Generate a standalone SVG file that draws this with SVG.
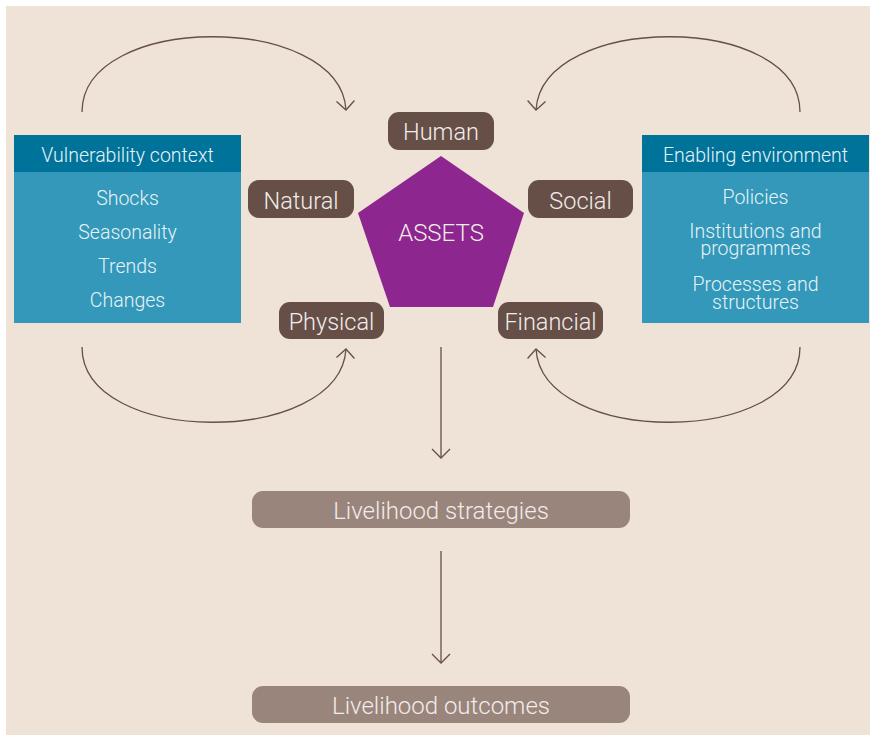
<svg xmlns="http://www.w3.org/2000/svg" width="875" height="735" viewBox="0 0 875 735">
<defs>
<marker id="ah" markerUnits="userSpaceOnUse" markerWidth="24" markerHeight="24" refX="12" refY="12" orient="auto">
<path d="M3,3 L12,12 L3,21" fill="none" stroke="#654F47" stroke-width="1.3"/>
</marker>
<style>
text{font-family:Roboto,"Liberation Sans",sans-serif;font-weight:300;text-anchor:middle;fill:#F2ECEA}
.hdr{fill:#00739B}
.body{fill:#3398BA}
.bt{fill:#E8F3F6}
.asset{fill:#654F47}
.out{fill:#9A857C}
.conn{fill:none;stroke:#654F47;stroke-width:1.3;marker-end:url(#ah)}
</style>
</defs>
<rect x="0" y="0" width="875" height="735" fill="#FFFFFF"/>
<rect x="6" y="6" width="864" height="729" fill="#EFE2D6"/>

<g id="connectors">
<path class="conn" d="M82,112 C82,12 340,12 346,110"/>
<path class="conn" d="M800,112 C800,12 542,12 536,110"/>
<path class="conn" d="M82,347 C82,447 340,447 346,349"/>
<path class="conn" d="M800,347 C800,447 542,447 536,349"/>
<path class="conn" d="M441,347 L441,458"/>
<path class="conn" d="M441,551 L441,663"/>
</g>

<g id="vulnerability">
<rect class="body" x="14" y="135" width="227" height="188"/>
<rect class="hdr" x="14" y="135" width="227" height="37"/>
<text class="bt" x="127.5" y="162" font-size="19.5">Vulnerability context</text>
<text class="bt" x="127.5" y="205" font-size="19.5">Shocks</text>
<text class="bt" x="127.5" y="239" font-size="19.5">Seasonality</text>
<text class="bt" x="127.5" y="273" font-size="19.5">Trends</text>
<text class="bt" x="127.5" y="307" font-size="19.5">Changes</text>
</g>

<g id="enabling">
<rect class="body" x="642" y="135" width="227" height="188"/>
<rect class="hdr" x="642" y="135" width="227" height="37"/>
<text class="bt" x="755.5" y="162" font-size="19.5">Enabling environment</text>
<text class="bt" x="755.5" y="204" font-size="19.5">Policies</text>
<text class="bt" font-size="19.5"><tspan x="755.5" y="238">Institutions and</tspan><tspan x="755.5" y="255">programmes</tspan></text>
<text class="bt" font-size="19.5"><tspan x="755.5" y="291">Processes and</tspan><tspan x="755.5" y="309">structures</tspan></text>
</g>

<g id="assets">
<polygon points="441,156 524,213 493,307 390,307 358,213" fill="#8E268F"/>
<text x="441" y="241" font-size="24">ASSETS</text>
</g>

<g id="human">
<rect class="asset" x="388" y="112" width="106" height="38" rx="11"/>
<text x="441" y="140" font-size="23.5">Human</text>
</g>
<g id="natural">
<rect class="asset" x="248" y="180" width="106" height="38" rx="11"/>
<text x="301" y="209" font-size="23.5">Natural</text>
</g>
<g id="social">
<rect class="asset" x="528" y="180" width="105" height="38" rx="11"/>
<text x="580.5" y="209" font-size="23.5">Social</text>
</g>
<g id="physical">
<rect class="asset" x="279" y="302" width="105" height="37" rx="11"/>
<text x="331.5" y="330" font-size="23.5">Physical</text>
</g>
<g id="financial">
<rect class="asset" x="498" y="302" width="105" height="37" rx="11"/>
<text x="550.5" y="330" font-size="23.5">Financial</text>
</g>

<g id="strategies">
<rect class="out" x="252" y="491" width="378" height="37" rx="11"/>
<text x="441" y="519" font-size="24">Livelihood strategies</text>
</g>
<g id="outcomes">
<rect class="out" x="252" y="686" width="378" height="37" rx="11"/>
<text x="441" y="714" font-size="24">Livelihood outcomes</text>
</g>
</svg>
